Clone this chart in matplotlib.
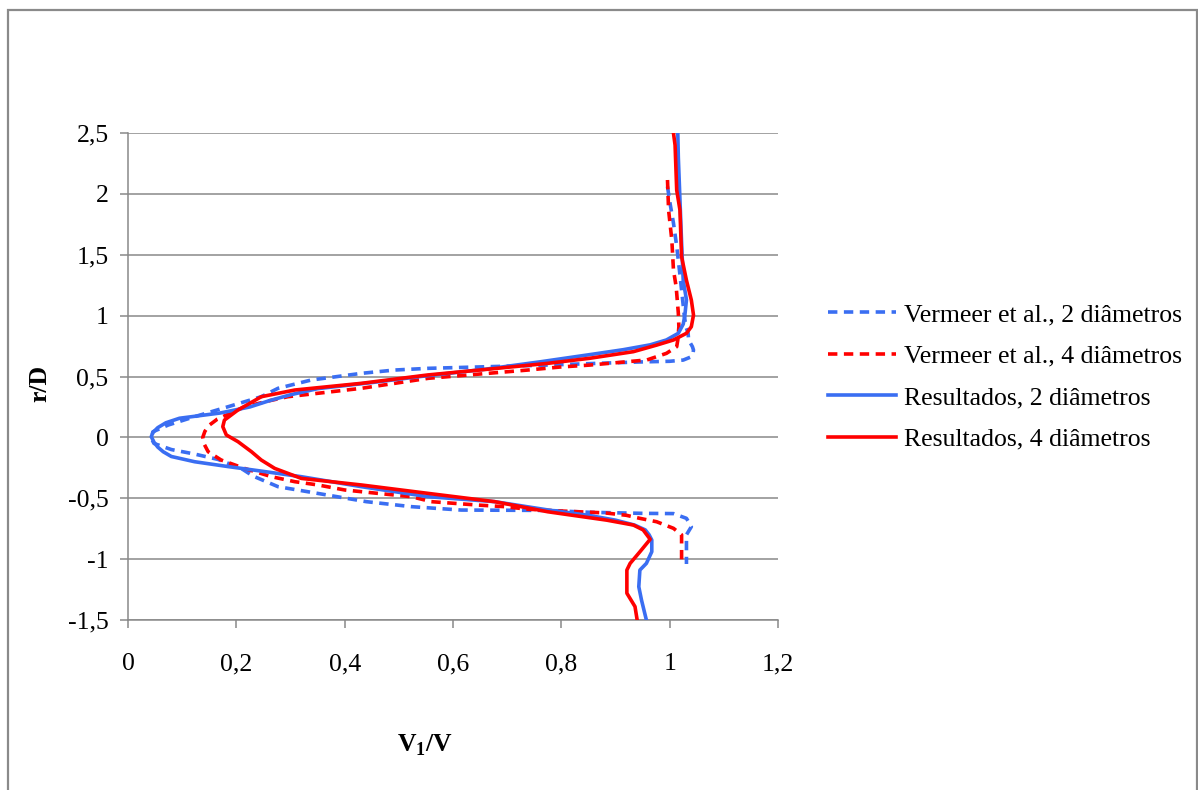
import matplotlib
matplotlib.use("Agg")
import matplotlib.pyplot as plt
from matplotlib.ticker import FuncFormatter
from matplotlib.patches import Rectangle

plt.rcParams['font.family'] = ['Liberation Serif', 'DejaVu Serif']
plt.rcParams['mathtext.fontset'] = 'custom'
plt.rcParams['mathtext.rm'] = 'Liberation Serif'
plt.rcParams['mathtext.bf'] = 'Liberation Serif:bold'

# ---- data (r/D vs V1/V) ----
verm2_r = [2.06, 1.94, 1.76, 1.57, 1.375, 1.21, 1.0, 0.909, 0.857, 0.80, 0.745, 0.717, 0.69, 0.662,
           0.635, 0.625, 0.62, 0.61, 0.594, 0.567, 0.553, 0.526, 0.471, 0.403, 0.334, 0.252, 0.17,
           0.101, 0.046, -0.008, -0.05, -0.1, -0.137, -0.181, -0.255, -0.318, -0.405, -0.46, -0.528,
           -0.569, -0.597, -0.60, -0.615, -0.624, -0.626, -0.665, -0.734, -0.80, -1.04]
verm2_v = [0.996, 1.0, 1.007, 1.013, 1.018, 1.022, 1.027, 1.03, 1.034, 1.035, 1.042, 1.044, 1.043, 1.04,
           1.025, 1.0, 0.95, 0.88, 0.775, 0.554, 0.492, 0.431, 0.338, 0.277, 0.246, 0.185, 0.123,
           0.074, 0.046, 0.043, 0.048, 0.08, 0.123, 0.166, 0.209, 0.231, 0.277, 0.35, 0.44,
           0.523, 0.615, 0.775, 0.85, 0.95, 1.007, 1.031, 1.04, 1.031, 1.031]

verm4_r = [2.114, 1.867, 1.62, 1.375, 1.237, 1.02, 0.909, 0.80, 0.745, 0.69, 0.636, 0.594, 0.578,
           0.553, 0.485, 0.403, 0.334, 0.30, 0.25, 0.20, 0.15, 0.10, 0.05, 0.0, -0.05, -0.118,
           -0.186, -0.255, -0.323, -0.364, -0.391, -0.432, -0.46, -0.487, -0.528, -0.542, -0.556,
           -0.569, -0.59, -0.605, -0.62, -0.64, -0.665, -0.693, -0.747, -0.80, -1.03]
verm4_v = [0.996, 0.998, 1.004, 1.007, 1.012, 1.016, 1.017, 1.015, 1.013, 0.994, 0.958, 0.853, 0.798,
           0.738, 0.554, 0.431, 0.295, 0.26, 0.215, 0.19, 0.165, 0.15, 0.142, 0.138, 0.14, 0.148,
           0.172, 0.215, 0.265, 0.308, 0.351, 0.40, 0.4615, 0.523, 0.56, 0.603, 0.646,
           0.695, 0.738, 0.8, 0.88, 0.92, 0.945, 0.976, 1.007, 1.022, 1.022]

res2_r = [2.5, 2.3, 1.95, 1.6, 1.29, 1.13, 1.0, 0.93, 0.855, 0.8, 0.76, 0.72, 0.68, 0.62, 0.56, 0.5,
          0.45, 0.4, 0.35, 0.3, 0.25, 0.2, 0.157, 0.12, 0.08, 0.04, 0.006, -0.04, -0.08, -0.118,
          -0.157, -0.2, -0.24, -0.277, -0.323, -0.405, -0.487, -0.528, -0.596, -0.64, -0.68, -0.72,
          -0.76, -0.8, -0.843, -0.939, -1.035, -1.09, -1.227, -1.336, -1.5]
res2_v = [1.015, 1.016, 1.019, 1.022, 1.025, 1.031, 1.028, 1.025, 1.016, 0.994, 0.964, 0.914, 0.853,
          0.76, 0.66, 0.54, 0.45, 0.35, 0.30, 0.26, 0.225, 0.17, 0.095, 0.07, 0.055, 0.046, 0.043,
          0.048, 0.055, 0.065, 0.08, 0.123, 0.185, 0.246, 0.32, 0.431, 0.554, 0.677, 0.775, 0.85,
          0.90, 0.935, 0.955, 0.962, 0.967, 0.967, 0.957, 0.945, 0.943, 0.948, 0.957]

res4_r = [2.5, 2.4, 2.03, 1.867, 1.484, 1.29, 1.128, 1.005, 0.909, 0.855, 0.8, 0.758, 0.704, 0.65,
          0.608, 0.56, 0.513, 0.444, 0.389, 0.334, 0.28, 0.225, 0.142, 0.088, 0.02, -0.035, -0.118,
          -0.186, -0.255, -0.337, -0.391, -0.46, -0.528, -0.611, -0.68, -0.72, -0.76, -0.837, -0.94,
          -1.035, -1.09, -1.28, -1.39, -1.5]
res4_v = [1.007, 1.01, 1.013, 1.019, 1.022, 1.031, 1.04, 1.044, 1.04, 1.031, 1.007, 0.976, 0.933,
          0.853, 0.775, 0.665, 0.554, 0.431, 0.308, 0.246, 0.225, 0.203, 0.178, 0.175, 0.1815, 0.203,
          0.228, 0.246, 0.271, 0.32, 0.431, 0.554, 0.677, 0.775, 0.884, 0.933, 0.951, 0.964, 0.945,
          0.927, 0.921, 0.921, 0.936, 0.94]

labels = ["Vermeer et al., 2 diâmetros", "Vermeer et al., 4 diâmetros",
          "Resultados, 2 diâmetros", "Resultados, 4 diâmetros"]
x_ticks = [0, 0.2, 0.4, 0.6, 0.8, 1.0, 1.2]
y_ticks = [-1.5, -1, -0.5, 0, 0.5, 1, 1.5, 2, 2.5]

BLUE = '#3A6EF2'
RED = '#FF0000'
GRID = '#898989'

W, H = 1198, 790
fig = plt.figure(figsize=(W / 100, H / 100), dpi=100)
ax = fig.add_axes([128 / W, 1 - 620 / H, (778 - 128) / W, (620 - 133) / H])

lw = 2.6
ax.plot(verm2_v, verm2_r, color=BLUE, lw=lw, dashes=(2.6, 1.8), label=labels[0], zorder=3)
ax.plot(verm4_v, verm4_r, color=RED, lw=lw, dashes=(2.6, 1.8), label=labels[1], zorder=3)
ax.plot(res2_v, res2_r, color=BLUE, lw=lw, label=labels[2], zorder=4)
ax.plot(res4_v, res4_r, color=RED, lw=lw, label=labels[3], zorder=5)

ax.set_xlim(0, 1.2)
ax.set_ylim(-1.5, 2.5)
ax.set_xticks(x_ticks)
ax.set_yticks(y_ticks)

fmt = FuncFormatter(lambda v, p: ('%g' % round(v, 2)).replace('.', ','))
ax.xaxis.set_major_formatter(fmt)
ax.yaxis.set_major_formatter(fmt)

ax.grid(axis='y', color=GRID, lw=1.1)
ax.set_axisbelow(True)
for s in ['top', 'right']:
    ax.spines[s].set_visible(False)
for s in ['left', 'bottom']:
    ax.spines[s].set_color(GRID)
    ax.spines[s].set_linewidth(1.1)
ax.tick_params(axis='both', direction='out', length=6, width=1.1, color=GRID,
               labelsize=18.5, labelcolor='black')
ax.tick_params(axis='x', pad=18)
ax.tick_params(axis='y', pad=8)

fig.text(40 / W, 1 - 383 / H, 'r/D', rotation=90, fontsize=18.5, fontweight='bold',
         ha='center', va='center')
fig.text(425 / W, 1 - 745 / H, r'$\mathbf{V}_{\mathbf{1}}\mathbf{/V}$', fontsize=18.5,
         ha='center', va='center')

leg = fig.legend(loc='center left', bbox_to_anchor=(828 / W, 1 - 377 / H), frameon=False,
                 fontsize=18.5, handlelength=2.65, handletextpad=0.3, borderpad=0,
                 borderaxespad=0, labelspacing=0.72)

fig.patches.append(Rectangle((8 / W, -0.05), (1197 - 8) / W, 1.05 - 10 / H,
                             transform=fig.transFigure, fill=False, edgecolor='#8a8a8a',
                             lw=1.6, figure=fig))

fig.savefig('out.png', dpi=100)
